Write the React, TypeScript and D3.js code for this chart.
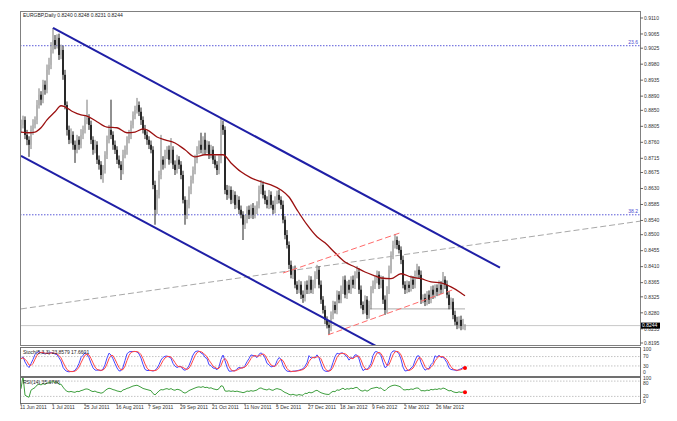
import React from 'react'
import * as d3 from 'd3'

// EURGBP daily bars (bar 0 = 11 Jun 2011)
const open = [
  0.8800, 0.8809, 0.8823, 0.8781, 0.8767, 0.8753, 0.8795, 0.8809, 0.8823, 0.8865, 0.8894, 0.8880, 0.8922, 0.8908, 0.8964, 0.8978,
  0.9020, 0.9048, 0.9034, 0.9054, 0.9006, 0.9020, 0.8950, 0.8865, 0.8795, 0.8767, 0.8781, 0.8753, 0.8739, 0.8767, 0.8753, 0.8781,
  0.8795, 0.8823, 0.8829, 0.8809, 0.8767, 0.8739, 0.8753, 0.8711, 0.8697, 0.8668, 0.8682, 0.8725, 0.8767, 0.8795, 0.8781, 0.8753,
  0.8739, 0.8711, 0.8697, 0.8682, 0.8725, 0.8739, 0.8767, 0.8781, 0.8809, 0.8837, 0.8851, 0.8865, 0.8846, 0.8823, 0.8795, 0.8781,
  0.8767, 0.8753, 0.8739, 0.8640, 0.8570, 0.8612, 0.8668, 0.8711, 0.8697, 0.8725, 0.8739, 0.8711, 0.8739, 0.8697, 0.8682, 0.8711,
  0.8697, 0.8668, 0.8598, 0.8556, 0.8584, 0.8626, 0.8654, 0.8682, 0.8711, 0.8739, 0.8753, 0.8739, 0.8767, 0.8739, 0.8753, 0.8725,
  0.8739, 0.8711, 0.8697, 0.8682, 0.8711, 0.8809, 0.8795, 0.8626, 0.8612, 0.8626, 0.8598, 0.8612, 0.8584, 0.8598, 0.8570, 0.8556,
  0.8528, 0.8542, 0.8570, 0.8556, 0.8575, 0.8556, 0.8570, 0.8584, 0.8626, 0.8640, 0.8612, 0.8598, 0.8584, 0.8612, 0.8584, 0.8570,
  0.8598, 0.8612, 0.8598, 0.8584, 0.8542, 0.8499, 0.8471, 0.8415, 0.8387, 0.8401, 0.8359, 0.8345, 0.8359, 0.8331, 0.8322, 0.8359,
  0.8345, 0.8373, 0.8345, 0.8359, 0.8387, 0.8401, 0.8359, 0.8317, 0.8288, 0.8260, 0.8246, 0.8238, 0.8274, 0.8302, 0.8288, 0.8331,
  0.8317, 0.8345, 0.8373, 0.8331, 0.8359, 0.8345, 0.8373, 0.8359, 0.8387, 0.8395, 0.8345, 0.8302, 0.8288, 0.8317, 0.8274, 0.8302,
  0.8345, 0.8359, 0.8373, 0.8387, 0.8359, 0.8373, 0.8317, 0.8288, 0.8345, 0.8401, 0.8443, 0.8471, 0.8485, 0.8471, 0.8457, 0.8429,
  0.8359, 0.8345, 0.8359, 0.8350, 0.8373, 0.8359, 0.8387, 0.8401, 0.8387, 0.8317, 0.8322, 0.8311, 0.8331, 0.8317, 0.8345, 0.8331,
  0.8350, 0.8339, 0.8359, 0.8345, 0.8373, 0.8359, 0.8331, 0.8302, 0.8311, 0.8274, 0.8255, 0.8246, 0.8260, 0.8243, 0.8240,
]
const high = [
  0.8824, 0.8835, 0.8833, 0.8795, 0.8777, 0.8807, 0.8825, 0.8833, 0.8879, 0.8912, 0.8904, 0.8936, 0.8934, 0.8979, 0.8998, 0.9042,
  0.9082, 0.9062, 0.9064, 0.9066, 0.9035, 0.9032, 0.8964, 0.8875, 0.8807, 0.8799, 0.8791, 0.8765, 0.8781, 0.8777, 0.8797, 0.8807,
  0.8835, 0.8880, 0.8839, 0.8821, 0.8777, 0.8767, 0.8763, 0.8723, 0.8707, 0.8696, 0.8735, 0.8779, 0.8809, 0.8880, 0.8791, 0.8765,
  0.8749, 0.8723, 0.8707, 0.8739, 0.8751, 0.8777, 0.8795, 0.8821, 0.8847, 0.8863, 0.8885, 0.8875, 0.8858, 0.8833, 0.8809, 0.8791,
  0.8777, 0.8765, 0.8749, 0.8652, 0.8626, 0.8680, 0.8781, 0.8721, 0.8739, 0.8749, 0.8751, 0.8772, 0.8749, 0.8709, 0.8725, 0.8721,
  0.8707, 0.8680, 0.8608, 0.8598, 0.8636, 0.8666, 0.8692, 0.8725, 0.8749, 0.8765, 0.8787, 0.8777, 0.8787, 0.8765, 0.8763, 0.8753,
  0.8749, 0.8723, 0.8707, 0.8723, 0.8829, 0.8821, 0.8805, 0.8640, 0.8638, 0.8636, 0.8626, 0.8622, 0.8612, 0.8608, 0.8582, 0.8566,
  0.8556, 0.8580, 0.8582, 0.8585, 0.8589, 0.8582, 0.8594, 0.8638, 0.8654, 0.8650, 0.8624, 0.8608, 0.8626, 0.8622, 0.8596, 0.8608,
  0.8624, 0.8626, 0.8608, 0.8596, 0.8552, 0.8513, 0.8481, 0.8427, 0.8411, 0.8413, 0.8369, 0.8373, 0.8369, 0.8343, 0.8369, 0.8371,
  0.8385, 0.8383, 0.8373, 0.8397, 0.8415, 0.8411, 0.8371, 0.8327, 0.8300, 0.8270, 0.8258, 0.8284, 0.8314, 0.8312, 0.8343, 0.8341,
  0.8357, 0.8383, 0.8385, 0.8369, 0.8373, 0.8383, 0.8385, 0.8397, 0.8412, 0.8405, 0.8357, 0.8312, 0.8329, 0.8327, 0.8314, 0.8355,
  0.8371, 0.8383, 0.8399, 0.8397, 0.8385, 0.8383, 0.8329, 0.8355, 0.8413, 0.8453, 0.8483, 0.8502, 0.8495, 0.8483, 0.8467, 0.8441,
  0.8369, 0.8371, 0.8369, 0.8385, 0.8383, 0.8399, 0.8418, 0.8411, 0.8399, 0.8332, 0.8334, 0.8341, 0.8343, 0.8355, 0.8357, 0.8360,
  0.8360, 0.8371, 0.8369, 0.8395, 0.8383, 0.8371, 0.8341, 0.8323, 0.8321, 0.8286, 0.8269, 0.8270, 0.8272, 0.8263, 0.8248,
]
const low = [
  0.8786, 0.8799, 0.8769, 0.8752, 0.8719, 0.8741, 0.8781, 0.8799, 0.8811, 0.8855, 0.8864, 0.8870, 0.8894, 0.8898, 0.8950, 0.8966,
  0.9010, 0.9022, 0.9024, 0.8992, 0.8994, 0.8936, 0.8853, 0.8779, 0.8755, 0.8757, 0.8739, 0.8702, 0.8729, 0.8739, 0.8743, 0.8769,
  0.8785, 0.8811, 0.8795, 0.8755, 0.8725, 0.8729, 0.8699, 0.8683, 0.8656, 0.8646, 0.8672, 0.8713, 0.8757, 0.8769, 0.8739, 0.8727,
  0.8699, 0.8687, 0.8654, 0.8670, 0.8715, 0.8725, 0.8757, 0.8769, 0.8799, 0.8825, 0.8841, 0.8834, 0.8809, 0.8785, 0.8769, 0.8753,
  0.8741, 0.8729, 0.8628, 0.8528, 0.8558, 0.8602, 0.8656, 0.8683, 0.8687, 0.8713, 0.8697, 0.8701, 0.8685, 0.8668, 0.8672, 0.8685,
  0.8656, 0.8588, 0.8528, 0.8544, 0.8574, 0.8614, 0.8644, 0.8670, 0.8701, 0.8727, 0.8729, 0.8725, 0.8727, 0.8729, 0.8713, 0.8715,
  0.8699, 0.8687, 0.8668, 0.8670, 0.8701, 0.8781, 0.8614, 0.8598, 0.8602, 0.8586, 0.8588, 0.8572, 0.8574, 0.8558, 0.8546, 0.8485,
  0.8516, 0.8532, 0.8544, 0.8546, 0.8544, 0.8546, 0.8558, 0.8574, 0.8614, 0.8602, 0.8586, 0.8574, 0.8572, 0.8574, 0.8558, 0.8560,
  0.8586, 0.8588, 0.8572, 0.8532, 0.8487, 0.8461, 0.8403, 0.8377, 0.8375, 0.8349, 0.8333, 0.8335, 0.8319, 0.8308, 0.8312, 0.8333,
  0.8333, 0.8335, 0.8333, 0.8349, 0.8375, 0.8349, 0.8305, 0.8278, 0.8248, 0.8236, 0.8218, 0.8228, 0.8262, 0.8278, 0.8276, 0.8307,
  0.8307, 0.8333, 0.8321, 0.8319, 0.8335, 0.8333, 0.8349, 0.8347, 0.8377, 0.8333, 0.8292, 0.8276, 0.8278, 0.8262, 0.8264, 0.8290,
  0.8335, 0.8347, 0.8363, 0.8347, 0.8349, 0.8305, 0.8274, 0.8278, 0.8333, 0.8391, 0.8431, 0.8461, 0.8459, 0.8447, 0.8417, 0.8349,
  0.8333, 0.8335, 0.8338, 0.8340, 0.8347, 0.8349, 0.8375, 0.8377, 0.8305, 0.8307, 0.8299, 0.8301, 0.8305, 0.8307, 0.8319, 0.8321,
  0.8327, 0.8329, 0.8333, 0.8335, 0.8347, 0.8321, 0.8290, 0.8292, 0.8262, 0.8245, 0.8234, 0.8236, 0.8231, 0.8233, 0.8231,
]
const close = [
  0.8809, 0.8823, 0.8781, 0.8767, 0.8753, 0.8795, 0.8809, 0.8823, 0.8865, 0.8894, 0.8880, 0.8922, 0.8908, 0.8964, 0.8978, 0.9020,
  0.9048, 0.9034, 0.9054, 0.9006, 0.9020, 0.8950, 0.8865, 0.8795, 0.8767, 0.8781, 0.8753, 0.8739, 0.8767, 0.8753, 0.8781, 0.8795,
  0.8823, 0.8829, 0.8809, 0.8767, 0.8739, 0.8753, 0.8711, 0.8697, 0.8668, 0.8682, 0.8725, 0.8767, 0.8795, 0.8781, 0.8753, 0.8739,
  0.8711, 0.8697, 0.8682, 0.8725, 0.8739, 0.8767, 0.8781, 0.8809, 0.8837, 0.8851, 0.8865, 0.8846, 0.8823, 0.8795, 0.8781, 0.8767,
  0.8753, 0.8739, 0.8640, 0.8570, 0.8612, 0.8668, 0.8711, 0.8697, 0.8725, 0.8739, 0.8711, 0.8739, 0.8697, 0.8682, 0.8711, 0.8697,
  0.8668, 0.8598, 0.8556, 0.8584, 0.8626, 0.8654, 0.8682, 0.8711, 0.8739, 0.8753, 0.8739, 0.8767, 0.8739, 0.8753, 0.8725, 0.8739,
  0.8711, 0.8697, 0.8682, 0.8711, 0.8809, 0.8795, 0.8626, 0.8612, 0.8626, 0.8598, 0.8612, 0.8584, 0.8598, 0.8570, 0.8556, 0.8528,
  0.8542, 0.8570, 0.8556, 0.8575, 0.8556, 0.8570, 0.8584, 0.8626, 0.8640, 0.8612, 0.8598, 0.8584, 0.8612, 0.8584, 0.8570, 0.8598,
  0.8612, 0.8598, 0.8584, 0.8542, 0.8499, 0.8471, 0.8415, 0.8387, 0.8401, 0.8359, 0.8345, 0.8359, 0.8331, 0.8322, 0.8359, 0.8345,
  0.8373, 0.8345, 0.8359, 0.8387, 0.8401, 0.8359, 0.8317, 0.8288, 0.8260, 0.8246, 0.8238, 0.8274, 0.8302, 0.8288, 0.8331, 0.8317,
  0.8345, 0.8373, 0.8331, 0.8359, 0.8345, 0.8373, 0.8359, 0.8387, 0.8395, 0.8345, 0.8302, 0.8288, 0.8317, 0.8274, 0.8302, 0.8345,
  0.8359, 0.8373, 0.8387, 0.8359, 0.8373, 0.8317, 0.8288, 0.8345, 0.8401, 0.8443, 0.8471, 0.8485, 0.8471, 0.8457, 0.8429, 0.8359,
  0.8345, 0.8359, 0.8350, 0.8373, 0.8359, 0.8387, 0.8401, 0.8387, 0.8317, 0.8322, 0.8311, 0.8331, 0.8317, 0.8345, 0.8331, 0.8350,
  0.8339, 0.8359, 0.8345, 0.8373, 0.8359, 0.8331, 0.8302, 0.8311, 0.8274, 0.8255, 0.8246, 0.8260, 0.8243, 0.8249, 0.8244,
]

// moving average as drawn on the chart, sampled at these bars
const maBar = [0, 4, 7, 10, 13, 17, 20, 22, 26, 30, 33, 38, 43, 48, 53, 57, 61, 63, 68, 72, 77, 82, 87, 92, 97, 101, 105, 110, 115, 120, 125, 130, 134, 138, 143, 148, 152, 157, 162, 167, 172, 177, 180, 185, 190, 195, 200, 205, 210, 215, 220, 222]
const maValue = [0.8789, 0.8787, 0.8789, 0.8801, 0.8823, 0.8846, 0.8863, 0.8860, 0.8846, 0.8837, 0.8834, 0.8818, 0.8803, 0.8801, 0.8787, 0.8789, 0.8798, 0.8795, 0.8775, 0.8767, 0.8758, 0.8739, 0.8719, 0.8725, 0.8725, 0.8725, 0.8702, 0.8677, 0.8660, 0.8649, 0.8640, 0.8626, 0.8606, 0.8570, 0.8528, 0.8494, 0.8477, 0.8449, 0.8423, 0.8409, 0.8395, 0.8384, 0.8378, 0.8376, 0.8390, 0.8381, 0.8376, 0.8367, 0.8364, 0.8353, 0.8336, 0.8328]

const priceTicks = ['0.9110', '0.9065', '0.9025', '0.8980', '0.8935', '0.8890', '0.8850', '0.8805', '0.8760', '0.8715', '0.8675', '0.8630', '0.8585', '0.8540', '0.8500', '0.8455', '0.8410', '0.8365', '0.8325', '0.8280', '0.8235', '0.8195']
const dateLabels = ['11 Jun 2011', '1 Jul 2011', '25 Jul 2011', '16 Aug 2011', '7 Sep 2011', '29 Sep 2011', '21 Oct 2011', '11 Nov 2011', '5 Dec 2011', '27 Dec 2011', '18 Jan 2012', '9 Feb 2012', '2 Mar 2012', '26 Mar 2012']
const dateEvery = 16

// drawn objects: [bar, price]
const channelTop = [[16, 0.9082], [239.5, 0.8407]]
const channelBottom = [[0, 0.8722], [180, 0.8179]]
const longDash = [[0, 0.8291], [309.5, 0.8538]]
const redTop = [[131, 0.8392], [189.5, 0.8505]]
const redBottom = [[153.5, 0.8218], [217, 0.8347]]
const support = [[174.5, 0.8291], [222, 0.8291]]
const fibLevels = [{ name: '23.6', price: 0.9032 }, { name: '38.2', price: 0.8556 }]
const lastPrice = 0.8244

const stochLevels = [100, 70, 30, 0]
const rsiLevels = [100, 80, 20, 0]

const title = 'EURGBP,Daily  0.8240 0.8248 0.8231 0.8244'
const stochTitle = 'Stoch(5,3,3) 23.8579 17.6601'
const rsiTitle = 'RSI(14) 35.6786'

const FONT = '"Liberation Sans", Arial, sans-serif'

const x = d3.scaleLinear().domain([0, 309.5]).range([21, 640])
const y = d3.scaleLinear().domain([0.81894, 0.91297]).range([345, 11])
const yStoch = d3.scaleLinear().domain([0, 100]).range([373, 349.5])
const yRsi = d3.scaleLinear().domain([0, 100]).range([401.5, 376])

// Stochastic(5,3,3)
function stochastic(kp: number, slow: number, dp: number) {
  const ll = close.map((_, i) => d3.min(low.slice(Math.max(0, i - kp + 1), i + 1)) as number)
  const hh = close.map((_, i) => d3.max(high.slice(Math.max(0, i - kp + 1), i + 1)) as number)
  const k = close.map((_, i) => {
    let num = 0, den = 0
    for (let j = Math.max(0, i - slow + 1); j <= i; j++) {
      num += close[j] - ll[j]
      den += hh[j] - ll[j]
    }
    return den ? (100 * num) / den : 50
  })
  const d = k.map((_, i) => d3.mean(k.slice(Math.max(0, i - dp + 1), i + 1)) as number)
  return { k, d }
}

// RSI(14), Wilder smoothing
function rsi(p: number) {
  const out = [50]
  let g = 0, l = 0
  for (let i = 1; i < close.length; i++) {
    const ch = close[i] - close[i - 1]
    const up = Math.max(ch, 0), dn = Math.max(-ch, 0)
    const n = Math.min(i, p)
    g = (g * (n - 1) + up) / n
    l = (l * (n - 1) + dn) / n
    out.push(l === 0 ? 100 : 100 - 100 / (1 + g / l))
  }
  return out
}

const st = stochastic(5, 3, 3)
const rs = rsi(14)

const seg = d3.line<number[]>().x(d => x(d[0])).y(d => y(d[1]))

// small nudges so the sub-window scale labels don't collide
const stochLabelY = (v: number) => yStoch(v) + (v === 0 ? 0.8 : 1.8)
const rsiLabelY = (v: number) => yRsi(v) + (v === 100 ? 3.6 : v === 80 ? 3.4 : 1.8)

export default function App() {
  const bars = d3.range(close.length)
  const maLine = d3.line<number>().x(i => x(maBar[i])).y(i => y(maValue[i])).curve(d3.curveMonotoneX)
  const kLine = d3.line<number>().x(i => x(i)).y(i => yStoch(st.k[i]))
  const dLine = d3.line<number>().x(i => x(i)).y(i => yStoch(st.d[i]))
  const rLine = d3.line<number>().x(i => x(i)).y(i => yRsi(rs[i]))
  const last = close.length - 1

  return (
    <div style={{ position: 'fixed', left: 0, top: 0 }}>
      <svg width={677} height={421} style={{ display: 'block', background: '#fff' }} fontFamily={FONT}>
        <defs>
          <clipPath id="main"><rect x={20} y={11} width={620} height={334} /></clipPath>
          <clipPath id="sub1"><rect x={20} y={347} width={620} height={29} /></clipPath>
          <clipPath id="sub2"><rect x={20} y={377} width={620} height={26} /></clipPath>
        </defs>

        {/* main panel */}
        <g clipPath="url(#main)">
          <line x1={20} x2={640} y1={y(lastPrice)} y2={y(lastPrice)} stroke="#c8c8c8" strokeWidth={1} />
          {fibLevels.map(f => (
            <line key={f.name} x1={20} x2={640} y1={y(f.price)} y2={y(f.price)} stroke="#5a5ad8" strokeWidth={1} strokeDasharray="1.5 1.5" />
          ))}
          <path d={seg(longDash as number[][])!} stroke="#a8a8a8" strokeWidth={1} strokeDasharray="6 3" fill="none" />
          <path d={seg(support as number[][])!} stroke="#bdbdbd" strokeWidth={1.2} fill="none" />
          {bars.map(i => {
            const up = close[i] >= open[i]
            const cx = x(i)
            const top = y(Math.max(open[i], close[i]))
            const bot = y(Math.min(open[i], close[i]))
            return (
              <g key={i}>
                <line x1={cx} x2={cx} y1={y(high[i])} y2={y(low[i])} stroke={up ? '#7a7a7a' : '#222'} strokeWidth={1} />
                <rect x={cx - 0.8} y={top} width={1.6} height={Math.max(1, bot - top)} fill={up ? '#b4b4b4' : '#111'} />
              </g>
            )
          })}
          <path d={maLine(d3.range(maBar.length))!} stroke="#9b1010" strokeWidth={1.3} fill="none" />
          <path d={seg(redTop as number[][])!} stroke="#ff6a6a" strokeWidth={1} strokeDasharray="6 3" fill="none" />
          <path d={seg(redBottom as number[][])!} stroke="#ff6a6a" strokeWidth={1} strokeDasharray="6 3" fill="none" />
          <path d={seg(channelTop as number[][])!} stroke="#1f1fa6" strokeWidth={2} fill="none" />
          <path d={seg(channelBottom as number[][])!} stroke="#1f1fa6" strokeWidth={2} fill="none" />
        </g>
        {fibLevels.map(f => (
          <text key={f.name} x={638} y={y(f.price) - 1.5} fontSize={5} fill="#4a4ad0" textAnchor="end">{f.name}</text>
        ))}
        <text x={23} y={17} fontSize={5} fill="#222">{title}</text>

        {/* stochastic */}
        <g clipPath="url(#sub1)">
          {[70, 30].map(v => (
            <line key={v} x1={20} x2={640} y1={yStoch(v)} y2={yStoch(v)} stroke="#c4c4c4" strokeDasharray="1.5 1.5" />
          ))}
          <path d={kLine(bars)!} stroke="#4646ff" strokeWidth={1} fill="none" />
          <path d={dLine(bars)!} stroke="#ff4646" strokeWidth={1} fill="none" />
          <circle cx={x(last)} cy={yStoch(st.d[last])} r={2} fill="#ff0000" />
        </g>
        <text x={23} y={354} fontSize={5} fill="#222">{stochTitle}</text>

        {/* RSI */}
        <g clipPath="url(#sub2)">
          {[80, 20].map(v => (
            <line key={v} x1={20} x2={640} y1={yRsi(v)} y2={yRsi(v)} stroke="#c4c4c4" strokeDasharray="1.5 1.5" />
          ))}
          <path d={rLine(bars)!} stroke="#3f9f3f" strokeWidth={1} fill="none" />
          <circle cx={x(last)} cy={yRsi(rs[last])} r={2} fill="#ff0000" />
        </g>
        <text x={23} y={384} fontSize={5} fill="#222">{rsiTitle}</text>

        {/* frames */}
        <rect x={20.5} y={11.5} width={620} height={334} fill="none" stroke="#808080" />
        <rect x={20.5} y={347.5} width={620} height={29} fill="none" stroke="#707070" />
        <rect x={20.5} y={377.5} width={620} height={26} fill="none" stroke="#707070" />

        {/* price axis */}
        {priceTicks.map(t => (
          <g key={t}>
            <line x1={640} x2={643} y1={y(+t)} y2={y(+t)} stroke="#666" />
            <text x={644} y={y(+t) + 1.8} fontSize={5} fill="#333">{t}</text>
          </g>
        ))}
        <rect x={641} y={y(lastPrice) - 3} width={19} height={6} fill="#000" />
        <text x={642} y={y(lastPrice) + 1.8} fontSize={5} fill="#fff">{lastPrice.toFixed(4)}</text>

        {stochLevels.map(v => (
          <text key={v} x={643} y={stochLabelY(v)} fontSize={5} fill="#333">{v}</text>
        ))}
        {rsiLevels.map(v => (
          <text key={v} x={643} y={rsiLabelY(v)} fontSize={5} fill="#333">{v}</text>
        ))}

        {/* date axis */}
        {dateLabels.map((d, i) => (
          <g key={d}>
            <line x1={x(i * dateEvery)} x2={x(i * dateEvery)} y1={403} y2={405} stroke="#666" />
            <text x={x(i * dateEvery) - 1} y={409} fontSize={5} fill="#333">{d}</text>
          </g>
        ))}
      </svg>
    </div>
  )
}
